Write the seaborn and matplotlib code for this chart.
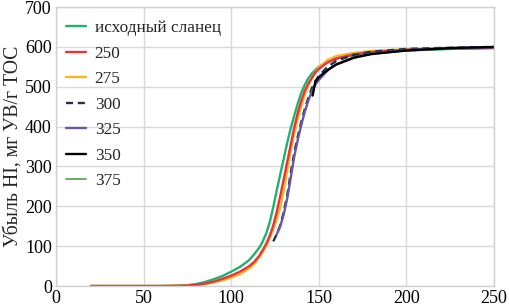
import numpy as np
import pandas as pd
import matplotlib
matplotlib.use("Agg")
import matplotlib.pyplot as plt
import seaborn as sns

# --- data ---
x_shale = [20, 60, 70, 75, 80, 85, 90, 95, 100, 105, 110, 113, 116, 118, 120, 122, 124, 126, 128, 130,
           132, 134, 136, 138, 140, 142, 144, 146, 148, 150, 155, 160, 170, 180, 200, 225, 250]
y_shale = [0, 0, 1, 2, 5, 10, 17, 25, 36, 48, 64, 79, 96, 112, 132, 160, 198, 240, 280, 320,
           360, 396, 428, 458, 485, 505, 521, 533, 542, 550, 563, 571, 580, 585, 591, 595, 597]

x_250 = [20, 60, 70, 75, 80, 85, 90, 95, 100, 105, 110, 113, 116, 118, 120, 122, 124, 126, 128, 130,
         132, 134, 136, 138, 140, 142, 144, 146, 148, 150, 155, 160, 170, 180, 200, 225, 250]
y_250 = [0, 0, 0.5, 1, 3, 6, 11, 18, 26, 36, 49, 60, 76, 90, 106, 126, 152, 186, 226, 268,
         312, 355, 398, 435, 465, 490, 508, 522, 535, 545, 561, 571, 581, 587, 593, 596, 598]

x_275 = [20, 60, 70, 75, 80, 85, 90, 95, 100, 105, 110, 113, 116, 118, 120, 122, 124, 126, 128, 130,
         132, 134, 136, 138, 140, 142, 144, 146, 148, 150, 155, 160, 170, 180, 200, 225, 250]
y_275 = [0, 0, 0.5, 1, 2, 5, 9, 14, 21, 30, 43, 55, 72, 86, 100, 120, 142, 168, 198, 240,
         290, 340, 383, 420, 452, 480, 503, 522, 537, 549, 567, 577, 585, 590, 594, 597, 599]

x_300 = [124, 126, 128, 130, 132, 134, 136,
         138, 140, 142, 144, 146, 148, 150, 155, 160, 170, 180, 200, 225, 250]
y_300 = [112, 130, 152, 186, 228, 284, 335,
         375, 412, 444, 472, 496, 514, 527, 550, 565, 580, 588, 595, 598, 600]

x_325 = [126, 128, 130, 132, 134, 136,
         138, 140, 142, 144, 146, 148, 150, 155, 160, 170, 180, 200, 225, 250]
y_325 = [130, 150, 180, 220, 272, 325,
         367, 404, 437, 465, 488, 505, 517, 541, 556, 573, 583, 592, 597, 599]

x_350 = [146.5, 148, 150, 153, 157, 160, 170, 180, 200, 225, 250]
y_350 = [478, 512, 524, 535, 548, 556, 573, 582, 591, 597, 600]

x_375 = [145, 147, 150, 155, 160, 170, 180, 200, 225, 250]
y_375 = [527, 537, 549, 562, 570, 579, 585, 591, 595, 597]

labels = ["исходный сланец", "250", "275", "300", "325", "350", "375"]
colors = ["#1db36f", "#e8323c", "#f7b621", "#1f3352", "#6b55a6", "#000000", "#5fa65a"]

series = [
    (x_shale, y_shale),
    (x_250, y_250),
    (x_275, y_275),
    (x_300, y_300),
    (x_325, y_325),
    (x_350, y_350),
    (x_375, y_375),
]

frames = []
for lab, (xs, ys) in zip(labels, series):
    frames.append(pd.DataFrame({"T": xs, "HI": ys, "series": lab}))
df = pd.concat(frames, ignore_index=True)

sns.set_style("whitegrid")
plt.rcParams["font.family"] = ["Liberation Serif", "DejaVu Serif"]

fig = plt.figure(figsize=(5.10, 3.08), dpi=100)
ax = fig.add_axes([0.1098, 0.0714, 0.8588, 0.9056])

palette = dict(zip(labels, colors))

# draw order: hidden 375 first, orange below red at the flat start
draw_order = ["375", "исходный сланец", "275", "250", "300", "325", "350"]
handles = {}
for lab in draw_order:
    sub = df[df["series"] == lab]
    sns.lineplot(data=sub, x="T", y="HI", ax=ax, color=palette[lab],
                 linewidth=1.7 if lab != "375" else 1.3,
                 label=lab, legend=False, sort=False)
    line = ax.get_lines()[-1]
    line.set_solid_capstyle("round")
    line.set_solid_joinstyle("round")
    if lab == "300":
        line.set_dashes((3, 2))
    handles[lab] = line

ax.set_xlim(0, 250)
ax.set_ylim(0, 700)
ax.set_xticks([0, 50, 100, 150, 200, 250])
ax.set_yticks(range(0, 701, 100))
ax.grid(True, color="#d9d9d9", linewidth=1.0)
for s in ax.spines.values():
    s.set_color("#d0d0d0")
    s.set_linewidth(1.0)
ax.tick_params(axis="both", labelsize=13, length=0, pad=3, colors="#000000")
ax.set_xlabel("")
ax.set_ylabel("Убыль HI, мг УВ/г ТОС", fontsize=14.2, labelpad=2)

leg = ax.legend([handles[l] for l in labels], labels, loc="upper left",
                frameon=False, fontsize=12.4, handlelength=1.15,
                handletextpad=0.5, labelspacing=0.55,
                borderaxespad=0.2, bbox_to_anchor=(0.0, 0.99))

fig.savefig("out.png", dpi=100)
